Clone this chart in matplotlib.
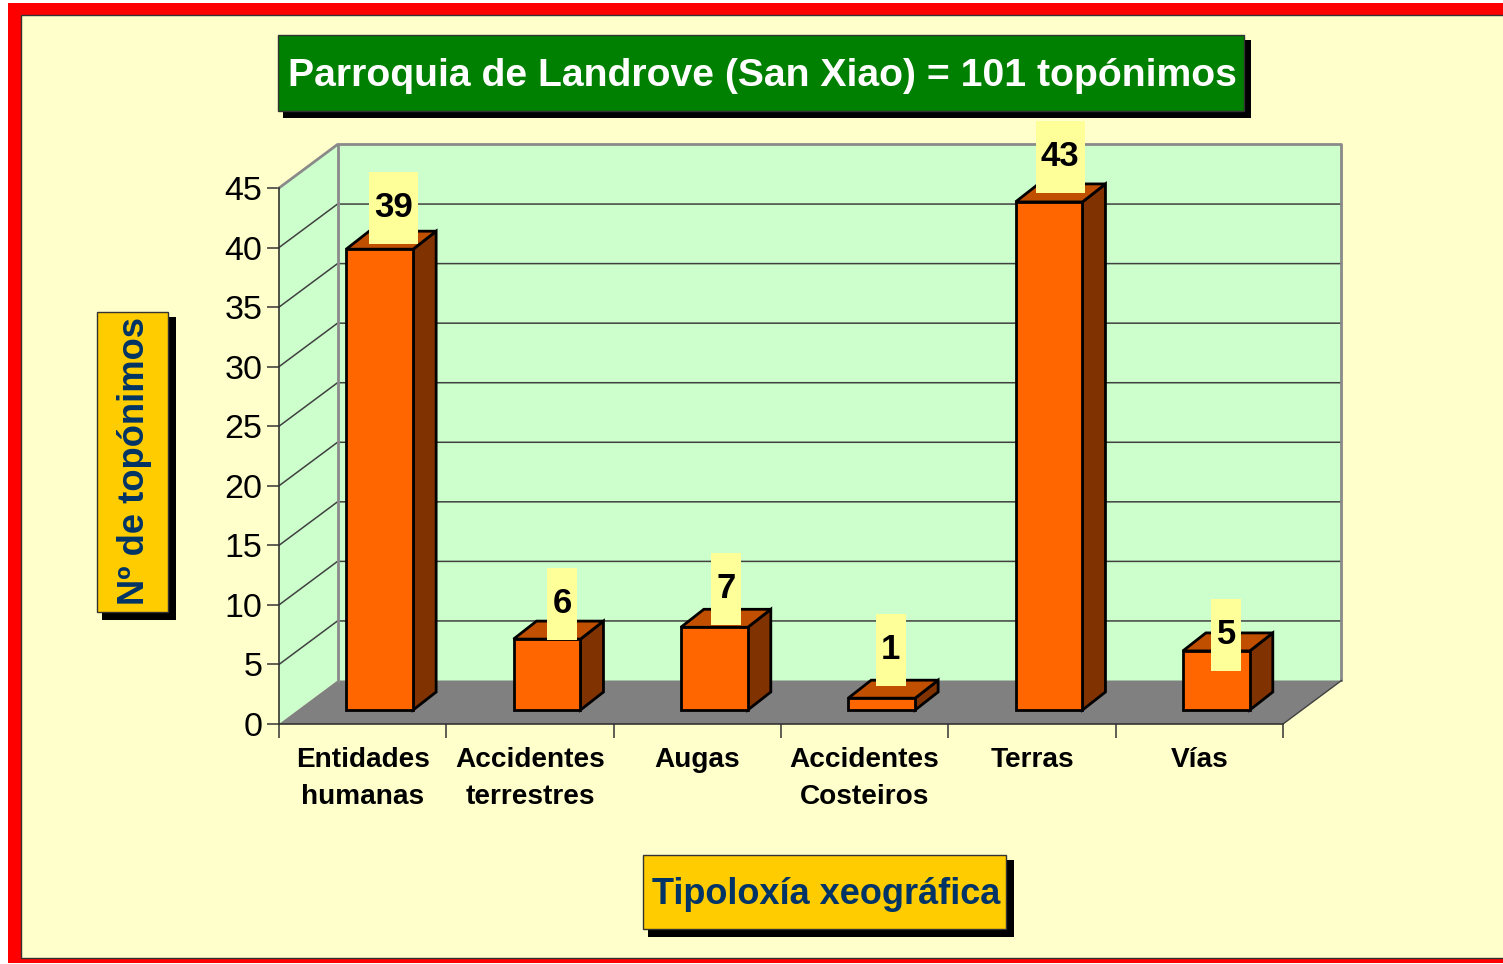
import matplotlib
matplotlib.use("Agg")
import matplotlib.pyplot as plt
from matplotlib.patches import Polygon, Rectangle

plt.rcParams["font.family"] = ["Liberation Sans", "DejaVu Sans"]

# data
categories = ["Entidades\nhumanas", "Accidentes\nterrestres", "Augas",
              "Accidentes\nCosteiros", "Terras", "Vías"]
values = [39, 6, 7, 1, 43, 5]
y_ticks = [0, 5, 10, 15, 20, 25, 30, 35, 40, 45]

title = "Parroquia de Landrove (San Xiao) = 101 topónimos"
x_title = "Tipoloxía xeográfica"
y_title = "Nº de topónimos"

# hand placed data label offsets in the original, px from bar top centre
label_dx = [14, 15, 12, 9, 11, 10]
label_dy = [41, 35, 38, 48, 45, 16]

# colours
RED = "#FF0000"
PAPER = "#FFFFCC"
WALL = "#CCFFCC"
FLOOR = "#808080"
GREEN = "#008000"
GOLD = "#FFCC00"
NAVY = "#003366"
BAR_FRONT = "#FF6600"
BAR_TOP = "#C05000"
BAR_SIDE = "#803300"
LABEL_BG = "#FFFF99"

W, H = 1503, 964
fig = plt.figure(figsize=(W / 100, H / 100), dpi=100, facecolor="white")

# ── page furniture, in pixel coordinates ──────────────────────────────────────
page = fig.add_axes([0, 0, 1, 1])
page.set_xlim(0, W)
page.set_ylim(H, 0)
page.axis("off")
page.add_patch(Rectangle((8, 3), W, 960, fc=RED, ec="none"))
page.add_patch(Rectangle((21, 15), W, 943, fc=PAPER, ec="#333333", lw=1))


def label_box(x0, y0, x1, y1, color, shadow):
    # shadow starts 5 px in but reaches further out at the far corner
    page.add_patch(Rectangle((x0 + 5, y0 + 5), x1 - x0 + shadow - 5, y1 - y0 + shadow - 5,
                             fc="black", ec="none"))
    page.add_patch(Rectangle((x0, y0), x1 - x0, y1 - y0, fc=color, ec="#333333", lw=1))


label_box(278, 35, 1244, 111, GREEN, 7)
page.text(762, 76, title, color="white", fontsize=28.2, fontweight="bold", ha="center", va="center")
label_box(97, 312, 168, 612, GOLD, 8)
page.text(134, 461, y_title, color=NAVY, fontsize=26.2, fontweight="bold", rotation=90, ha="center", va="center")
label_box(643, 855, 1006, 929, GOLD, 8)
page.text(826, 895, x_title, color=NAVY, fontsize=26, fontweight="bold", ha="center", va="center")

# ── chart: axes is the front plane of the 3D box ──────────────────────────────
left, right, top, bottom = 279, 1283, 188, 724
ax = fig.add_axes([left / W, 1 - bottom / H, (right - left) / W, (bottom - top) / H])
ax.set_xlim(0, len(categories))
ax.set_ylim(0, max(y_ticks))
ax.patch.set_visible(False)

ux = (right - left) / len(categories)   # px per category
uy = (bottom - top) / max(y_ticks)      # px per value unit
depth_x, depth_y = 58.5 / ux, 43.5 / uy  # box depth in data units
n = len(categories)
ymax = max(y_ticks)

# walls and floor
ax.add_patch(Polygon([(0, 0), (depth_x, depth_y), (depth_x, ymax + depth_y), (0, ymax)],
                     fc=WALL, ec="none", clip_on=False, zorder=1))
ax.add_patch(Rectangle((depth_x, depth_y), n, ymax, fc=WALL, ec="none", clip_on=False, zorder=1))
ax.add_patch(Polygon([(0, 0), (n, 0), (n + depth_x, depth_y), (depth_x, depth_y)],
                     fc=FLOOR, ec="none", clip_on=False, zorder=1))

# gridlines
for t in y_ticks[1:-1]:
    ax.plot([0, depth_x, n + depth_x], [t, t + depth_y, t + depth_y], color="#404040", lw=1.1,
            clip_on=False, zorder=2)
ax.plot([0, depth_x, n + depth_x, n + depth_x],
        [ymax, ymax + depth_y, ymax + depth_y, depth_y], color="#8A8A8A", lw=2, clip_on=False, zorder=2.5)
ax.plot([depth_x, depth_x], [depth_y, ymax + depth_y], color="#8A8A8A", lw=2, clip_on=False, zorder=2.5)
ax.plot([n, n + depth_x], [0, depth_y], color="#404040", lw=1, clip_on=False, zorder=2.5)

# bars
bar_w = 0.40
shift_x = 17 / ux
base = 14 / uy
bar_dx, bar_dy = 23 / ux, 18 / uy
hscale = 0.992
centres = [i + 0.5 + shift_x for i in range(n)]

for c, v in zip(centres, values):
    h = v * hscale
    x0, x1 = c - bar_w / 2, c + bar_w / 2
    y1 = base + h
    ax.add_patch(Polygon([(x1, base), (x1 + bar_dx, base + bar_dy), (x1 + bar_dx, y1 + bar_dy), (x1, y1)],
                         fc=BAR_SIDE, ec="black", lw=2, joinstyle="miter", clip_on=False, zorder=3))
    ax.add_patch(Polygon([(x0, y1), (x1, y1), (x1 + bar_dx, y1 + bar_dy), (x0 + bar_dx, y1 + bar_dy)],
                         fc=BAR_TOP, ec="black", lw=2, joinstyle="miter", clip_on=False, zorder=3))
ax.bar(centres, [v * hscale for v in values], width=bar_w, bottom=base, color=BAR_FRONT,
       edgecolor="black", linewidth=2, clip_on=False, zorder=4)

# data labels
for c, v, dx, dy in zip(centres, values, label_dx, label_dy):
    lx = c + dx / ux
    ly = base + v * hscale + dy / uy
    box_w = (49 if v >= 10 else 30) / ux
    box_h = 72 / uy
    ax.add_patch(Rectangle((lx - box_w / 2, ly - box_h / 2), box_w, box_h, fc=LABEL_BG, ec="none",
                           clip_on=False, zorder=5))
    ax.text(lx, ly + 0.05, str(v), fontsize=25, fontweight="bold", color="black", ha="center", va="center",
            clip_on=False, zorder=6)

# axes
for s in ["top", "right"]:
    ax.spines[s].set_visible(False)
for s in ["left", "bottom"]:
    ax.spines[s].set_color("#333333")
    ax.spines[s].set_linewidth(1.2)
    ax.spines[s].set_zorder(2.6)

ax.set_yticks(y_ticks)
ax.tick_params(axis="y", labelsize=24.5, length=9, width=1.1, color="#333333", pad=3)
ax.set_xticks(range(n + 1))
ax.set_xticklabels([])
ax.set_xticks([i + 0.5 for i in range(n)], minor=True)
ax.set_xticklabels(categories, minor=True, fontsize=20.2, fontweight="bold", linespacing=1.55)
ax.tick_params(axis="x", which="major", length=10, width=1.1, color="#333333")
ax.tick_params(axis="x", which="minor", length=0, pad=16.5)

fig.savefig("out.png", dpi=100, facecolor="white")
